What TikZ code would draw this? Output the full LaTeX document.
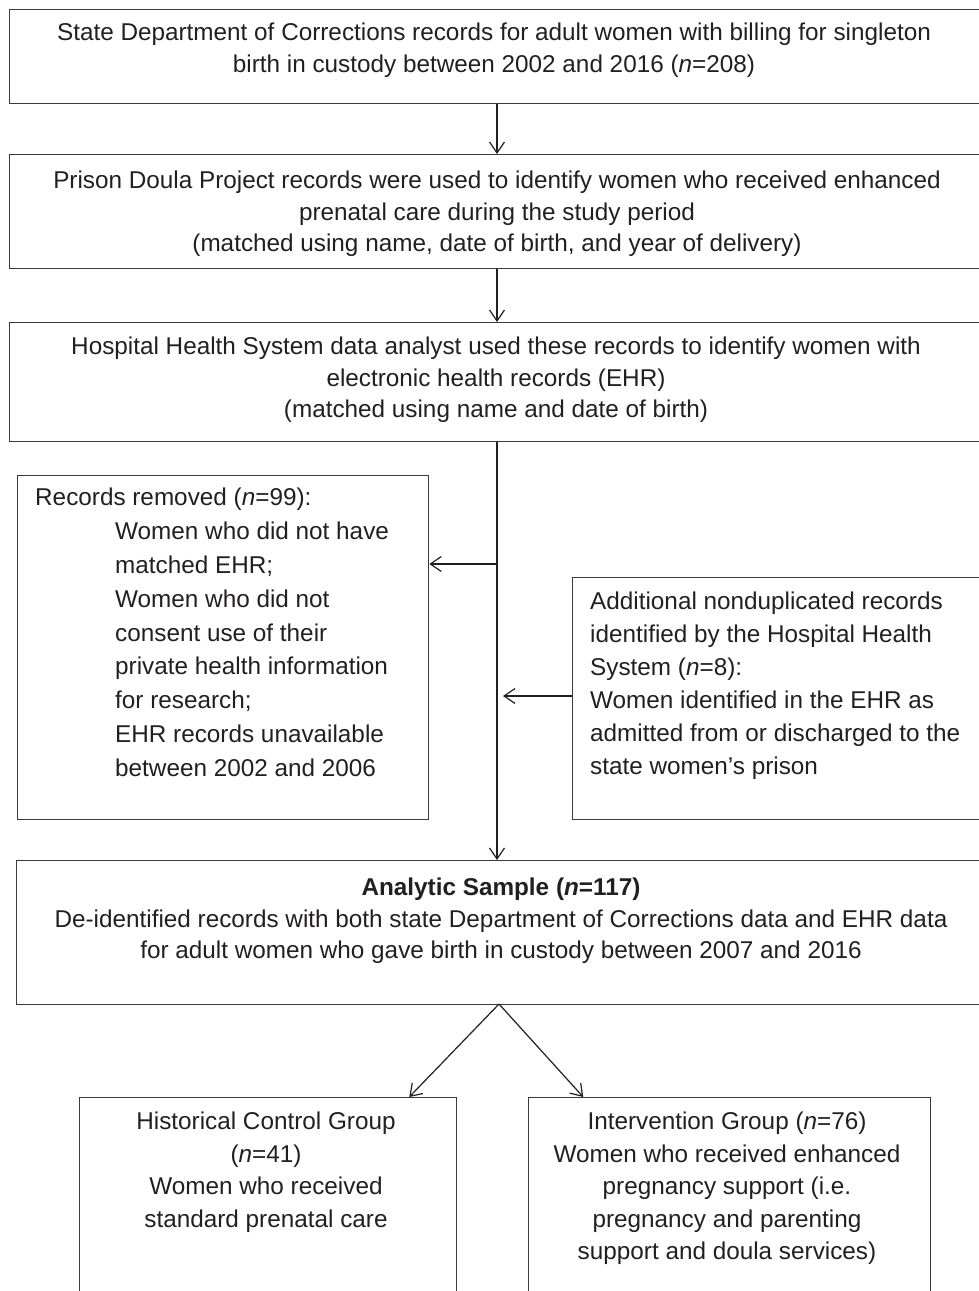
\documentclass[tikz,border=0pt]{standalone}
\usepackage{fontspec}
\setmainfont{Liberation Sans}
\usetikzlibrary{arrows.meta,calc}
\definecolor{ink}{HTML}{231F20}
\definecolor{edge}{HTML}{3A3A3A}
\tikzset{
  box/.style={draw=edge, line width=1.3pt, rectangle, anchor=north west, inner sep=0pt},
  txt/.style={text=ink, inner sep=0pt, font=\fontsize{24.3}{31.5}\selectfont},
  sidetxt/.style={text=ink, inner sep=0pt, align=left, anchor=north west, font=\fontsize{24.3}{33.8}\selectfont},
  arr/.style={draw=ink, line width=1.2pt, -{Straight Barb[length=11pt,width=15pt,line width=1.2pt]}}
}
\begin{document}
\begin{tikzpicture}[x=1pt,y=-1pt]
\useasboundingbox (0,0) rectangle (979,1291);
\coordinate (spine) at (497,0);
% boxes
\node[box, minimum width=973pt, minimum height=94pt] (b1) at (9,9) {};
\node[box, minimum width=973pt, minimum height=114pt] (b2) at (9,154) {};
\node[box, minimum width=973pt, minimum height=119pt] (b3) at (9,322) {};
\node[box, minimum width=411pt, minimum height=344pt] (rem) at (17,475) {};
\node[box, minimum width=420pt, minimum height=242pt] (add) at (572,577) {};
\node[box, minimum width=975pt, minimum height=144pt] (ana) at (16,860) {};
\node[box, minimum width=377pt, minimum height=260pt] (ctl) at (79,1097) {};
\node[box, minimum width=402pt, minimum height=260pt] (int) at (528,1097) {};
% texts
\node[txt, align=center, anchor=north] (t1) at (494,23) {State Department of Corrections records for adult women with billing for singleton\\birth in custody between 2002 and 2016 (\textit{n}=208)};
\node[txt, align=center, anchor=north] (t2) at (497,171) {Prison Doula Project records were used to identify women who received enhanced\\prenatal care during the study period\\(matched using name, date of birth, and year of delivery)};
\node[txt, align=center, anchor=north] (t3) at (496,337) {Hospital Health System data analyst used these records to identify women with\\electronic health records (EHR)\\(matched using name and date of birth)};
\node[sidetxt] (t4) at (35,488) {Records removed (\textit{n}=99):\\
\hspace*{80pt}Women who did not have\\
\hspace*{80pt}matched EHR;\\
\hspace*{80pt}Women who did not\\
\hspace*{80pt}consent use of their\\
\hspace*{80pt}private health information\\
\hspace*{80pt}for research;\\
\hspace*{80pt}EHR records unavailable\\
\hspace*{80pt}between 2002 and 2006};
\node[sidetxt, font=\fontsize{24.3}{33}\selectfont] (t5) at (590,592) {Additional nonduplicated records\\identified by the Hospital Health\\System (\textit{n}=8):\\Women identified in the EHR as\\admitted from or discharged to the\\state women’s prison};
\node[txt, align=center, anchor=north] (t6) at (501,878) {\textbf{Analytic Sample (\textit{n}=117)}\\De-identified records with both state Department of Corrections data and EHR data\\for adult women who gave birth in custody between 2007 and 2016};
\node[txt, align=center, anchor=north, font=\fontsize{24.3}{32.5}\selectfont] (t7) at (266,1112) {Historical Control Group\\(\textit{n}=41)\\Women who received\\standard prenatal care};
\node[txt, align=center, anchor=north, font=\fontsize{24.3}{32.5}\selectfont] (t8) at (727,1112) {Intervention Group (\textit{n}=76)\\Women who received enhanced\\pregnancy support (i.e.\\pregnancy and parenting\\support and doula services)};
% connectors
\draw[arr] (b1.south -| spine) -- (b2.north -| spine);
\draw[arr] (b2.south -| spine) -- (b3.north -| spine);
\draw[arr] (b3.south -| spine) -- (ana.north -| spine);
\coordinate (j1) at (497,564);
\draw[arr] (j1) -- (rem.east |- j1);
\coordinate (j2) at (503,696);
\draw[arr] (add.west |- j2) -- (j2);
\coordinate (split) at (499,1004);
\draw[arr] (split) -- ($(ctl.north west)!0.873!(ctl.north east)$);
\draw[arr] (split) -- ($(int.north west)!0.137!(int.north east)$);
\end{tikzpicture}
\end{document}
